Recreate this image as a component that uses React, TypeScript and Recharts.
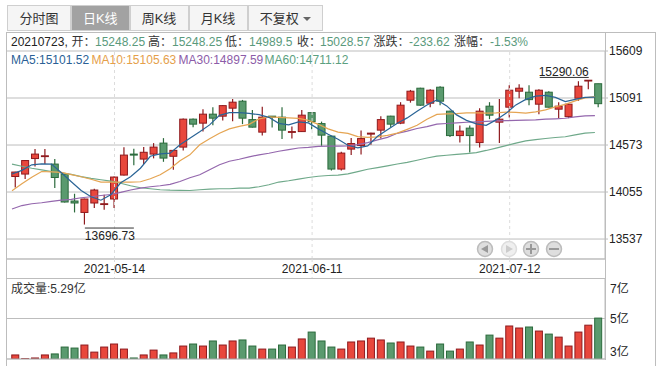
import { Bar, CartesianGrid, ComposedChart, Line, ReferenceDot, ReferenceLine, XAxis, YAxis } from "recharts"

const FONT = '"Liberation Sans", "Noto Sans CJK SC", sans-serif'
const RED = "#e8473c"
const RED_DARK = "#8e1a1e"
const GREEN = "#5a9a6e"
const GREEN_DARK = "#2b6a3c"
const GRID = "#bdbdbd"
const UP_TEXT = "#5a9a7c"

const dates = [
  "2021-04-27", "2021-04-28", "2021-04-29", "2021-04-30", "2021-05-06", "2021-05-07", "2021-05-10", "2021-05-11", "2021-05-12", "2021-05-13",
  "2021-05-14", "2021-05-17", "2021-05-18", "2021-05-19", "2021-05-20", "2021-05-21", "2021-05-24", "2021-05-25", "2021-05-26", "2021-05-27",
  "2021-05-28", "2021-05-31", "2021-06-01", "2021-06-02", "2021-06-03", "2021-06-04", "2021-06-07", "2021-06-08", "2021-06-09", "2021-06-10",
  "2021-06-11", "2021-06-15", "2021-06-16", "2021-06-17", "2021-06-18", "2021-06-21", "2021-06-22", "2021-06-23", "2021-06-24", "2021-06-25",
  "2021-06-28", "2021-06-29", "2021-06-30", "2021-07-01", "2021-07-02", "2021-07-05", "2021-07-06", "2021-07-07", "2021-07-08", "2021-07-09",
  "2021-07-12", "2021-07-13", "2021-07-14", "2021-07-15", "2021-07-16", "2021-07-19", "2021-07-20", "2021-07-21", "2021-07-22", "2021-07-23",
]
const opens = [
  14226, 14253, 14424, 14446, 14363, 14253, 13956, 13830, 13934, 13918,
  13978, 14242, 14473, 14418, 14473, 14594, 14449, 14550, 14858, 14814,
  14913, 14891, 14979, 15056, 14853, 14715, 14891, 14880, 14715, 14721,
  14930, 14809, 14671, 14308, 14528, 14567, 14693, 14737, 14891, 14814,
  15067, 15199, 15034, 15210, 14946, 14677, 14759, 14600, 15001, 14825,
  14990, 15166, 15155, 15023, 15155, 14968, 14886, 15089, 15279, 15248.25,
]
const closes = [
  14275, 14402, 14473, 14454, 14215, 13945, 13934, 13978, 14077, 13926,
  14220, 14462, 14462, 14493, 14550, 14429, 14514, 14858, 14803, 14913,
  14869, 15007, 15045, 14869, 14770, 14880, 14880, 14737, 14721, 14902,
  14831, 14682, 14308, 14484, 14589, 14644, 14704, 14853, 14803, 15012,
  15166, 15012, 15177, 15056, 14677, 14726, 14677, 14946, 14902, 14858,
  15177, 15199, 15073, 15177, 14990, 15001, 15023, 15221, 15287, 15028.57,
]
const highs = [
  14278, 14402, 14528, 14528, 14418, 14258, 14036, 13982, 14091, 14025,
  14225, 14548, 14531, 14550, 14594, 14649, 14518, 14866, 14866, 14968,
  14990, 15010, 15081, 15070, 14960, 14996, 14894, 14990, 14776, 14960,
  14934, 14831, 14675, 14498, 14649, 14732, 14708, 14891, 14895, 15045,
  15180, 15205, 15188, 15221, 14950, 14787, 14787, 14979, 15045, 15081,
  15232, 15243, 15232, 15188, 15166, 15045, 15034, 15276, 15290.06, 15248.25,
]
const lows = [
  14105, 14198, 14336, 14363, 14099, 13940, 13830, 13696.73, 13879, 13860,
  13879, 14238, 14350, 14363, 14426, 14388, 14300, 14512, 14770, 14721,
  14790, 14842, 14836, 14803, 14766, 14677, 14765, 14638, 14644, 14717,
  14748, 14564, 14292, 14292, 14462, 14468, 14575, 14644, 14770, 14803,
  15040, 15005, 14988, 15012, 14660, 14600, 14490, 14545, 14858, 14594,
  14875, 15089, 15012, 14913, 14986, 14869, 14869, 15059, 15188, 14989.5,
]
const ma5 = [
  14253, 14294, 14355, 14366, 14363, 14267, 14168, 14072, 14003, 13965,
  14025, 14157, 14223, 14317, 14449, 14476, 14484, 14575, 14648, 14718,
  14795, 14900, 14930, 14930, 14922, 14907, 14878, 14812, 14795, 14828,
  14817, 14751, 14691, 14636, 14570, 14542, 14564, 14669, 14740, 14812,
  14872, 14944, 15015, 15070, 15004, 14905, 14845, 14806, 14790, 14850,
  14922, 15015, 15076, 15112, 15120, 15098, 15051, 15076, 15098, 15101.52,
]
const ma10 = [
  14069, 14146, 14217, 14281, 14278, 14271, 14247, 14223, 14196, 14165,
  14165, 14165, 14165, 14168, 14201, 14245, 14311, 14399, 14465, 14575,
  14641, 14702, 14751, 14779, 14801, 14861, 14883, 14878, 14872, 14867,
  14845, 14801, 14751, 14715, 14702, 14666, 14658, 14663, 14680, 14704,
  14746, 14790, 14856, 14911, 14916, 14920, 14927, 14927, 14925, 14927,
  14935, 14933, 14925, 14938, 14960, 14993, 15021, 15059, 15092, 15105.63,
]
const ma30 = [
  13868, 13906, 13926, 13937, 13951, 13965, 13974, 13992, 14003, 14017,
  14028, 14051, 14077, 14098, 14113, 14124, 14140, 14171, 14212, 14245,
  14300, 14355, 14394, 14416, 14443, 14465, 14482, 14504, 14522, 14540,
  14548, 14559, 14561, 14561, 14564, 14578, 14599, 14630, 14658, 14702,
  14727, 14755, 14775, 14804, 14810, 14817, 14824, 14828, 14834, 14839,
  14841, 14845, 14848, 14850, 14858, 14862, 14868, 14883, 14894, 14897.59,
]
const ma60 = [
  14363, 14339, 14317, 14300, 14281, 14267, 14250, 14225, 14206, 14190,
  14176, 14152, 14124, 14102, 14091, 14080, 14075, 14073, 14072, 14080,
  14088, 14091, 14091, 14097, 14099, 14113, 14135, 14165, 14179, 14197,
  14215, 14229, 14237, 14242, 14256, 14280, 14306, 14324, 14344, 14364,
  14381, 14405, 14430, 14451, 14460, 14469, 14479, 14490, 14513, 14539,
  14566, 14593, 14619, 14633, 14645, 14656, 14664, 14685, 14705, 14711.12,
]
const volumes = [
  3.2, 3.02, 3.05, 3.2, 3.25, 3.59, 3.54, 3.69, 3.34, 3.59,
  3.74, 3.49, 3.05, 3.2, 3.44, 3.2, 3.3, 3.64, 3.74, 3.64,
  3.89, 3.69, 3.89, 3.94, 3.64, 3.49, 3.49, 3.69, 3.59, 3.99,
  4.33, 3.89, 3.59, 3.49, 3.84, 3.89, 4.03, 3.94, 3.79, 3.84,
  3.64, 3.59, 3.39, 3.74, 3.39, 3.49, 3.84, 3.69, 4.18, 4.03,
  4.63, 4.53, 4.58, 4.38, 4.23, 4.08, 3.64, 4.33, 4.67, 5.02,
]
const priceTicks = [15609, 15091, 14573, 14055, 13537]
const volumeTicks = [7, 5, 3]
const dateTicks = ["2021-05-14", "2021-06-11", "2021-07-12"]
const tabs = ["分时图", "日K线", "周K线", "月K线", "不复权"]
const tabEdges = [7, 71, 129.5, 188.5, 247.5, 323]

const infoRow = [
  { text: "20210723,", x: 11, color: "#222" },
  { text: "开：", x: 71.5, color: "#333" },
  { text: "15248.25", x: 95, color: UP_TEXT },
  { text: "高：", x: 148, color: "#333" },
  { text: "15248.25", x: 172, color: UP_TEXT },
  { text: "低：", x: 225, color: "#333" },
  { text: "14989.5", x: 249, color: UP_TEXT },
  { text: "收：", x: 297, color: "#333" },
  { text: "15028.57", x: 320, color: UP_TEXT },
  { text: "涨跌：", x: 373.5, color: "#333" },
  { text: "-233.62", x: 409, color: UP_TEXT },
  { text: "涨幅：", x: 454, color: "#333" },
  { text: "-1.53%", x: 490, color: UP_TEXT },
]
const maRow = [
  { text: "MA5:15101.52", x: 11, color: "#2a5f96" },
  { text: "MA10:15105.63", x: 91.5, color: "#e5a04a" },
  { text: "MA30:14897.59", x: 178.5, color: "#8c5ca8" },
  { text: "MA60:14711.12", x: 264.5, color: "#5b9f80" },
]

const rows = dates.map((date, i) => ({
  date,
  open: opens[i],
  close: closes[i],
  high: highs[i],
  low: lows[i],
  range: [lows[i], highs[i]],
  ma5: ma5[i],
  ma10: ma10[i],
  ma30: ma30[i],
  ma60: ma60[i],
  volume: volumes[i],
  up: closes[i] >= opens[i],
}))

function Candle(props: any) {
  const { x, y, width, height, payload } = props
  const perUnit = height / (payload.high - payload.low)
  const top = y + (payload.high - Math.max(payload.open, payload.close)) * perUnit
  const bottom = y + (payload.high - Math.min(payload.open, payload.close)) * perUnit
  const stroke = payload.up ? RED_DARK : GREEN_DARK
  const mid = x + width / 2
  return (
    <g>
      <line x1={mid} x2={mid} y1={y} y2={y + height} stroke={stroke} strokeWidth={1.2} />
      <rect x={x} y={top} width={width} height={Math.max(bottom - top, 0.8)} fill={payload.up ? RED : GREEN} stroke={stroke} strokeWidth={1} />
    </g>
  )
}

function VolumeBar(props: any) {
  const { x, y, width, height, payload } = props
  return <rect x={x} y={y} width={width} height={height} fill={payload.up ? RED : GREEN} stroke={payload.up ? RED_DARK : GREEN_DARK} strokeWidth={1} />
}

function DateTick(props: any) {
  const { x, y, payload } = props
  return (
    <g>
      <line x1={x} x2={x} y1={y} y2={y + 19} stroke="#dcdcdc" strokeDasharray="3 3" />
      <text x={x} y={y + 14} textAnchor="middle" fontSize={12} fontFamily={FONT} fill="#222">{payload.value}</text>
    </g>
  )
}

function VolumeTick(props: any) {
  const { x, y, payload } = props
  // the outer labels are pushed inside the panel
  const labelY = Math.min(Math.max(y + 4, 15), 78)
  return (
    <text x={x + 5} y={labelY} fontSize={12} fontFamily={FONT} fill="#222">
      {payload.value}亿
    </text>
  )
}

function HighLabel(props: any) {
  const { cx, cy } = props
  return (
    <g>
      <text x={cx} y={cy - 4} textAnchor="end" fontSize={12} fontFamily={FONT} fill="#222">15290.06</text>
      <line x1={cx - 49} x2={cx} y1={cy - 2.5} y2={cy - 2.5} stroke="#333" />
    </g>
  )
}

function LowLabel(props: any) {
  const { cx, cy } = props
  return (
    <g>
      <line x1={cx} x2={cx + 49} y1={cy + 3.5} y2={cy + 3.5} stroke="#333" />
      <text x={cx} y={cy + 15} fontSize={12} fontFamily={FONT} fill="#222">13696.73</text>
    </g>
  )
}

function ZoomButtons() {
  const centers = [485, 509, 531, 554]
  return (
    <svg width={664} height={366} style={{ position: "absolute", left: 0, top: 0, pointerEvents: "none" }}>
      {centers.map((cx, i) => (
        <circle key={cx} cx={cx} cy={249} r={7.5} fill={i === 1 ? "#efefef" : "#dedede"} stroke={i === 1 ? "#dddddd" : "#bcbcbc"} strokeWidth={1.5} />
      ))}
      <path d="M481 249 L488 245 L488 253 Z" fill="#999" />
      <path d="M513 249 L506 245 L506 253 Z" fill="#ccc" />
      <path d="M526 249 H536 M531 244 V254" stroke="#999" strokeWidth={2} />
      <path d="M549 249 H559" stroke="#999" strokeWidth={2} />
    </svg>
  )
}

function Frame() {
  const lineStyle = (left: number, top: number, width: number, height: number) => ({
    position: "absolute" as const, left, top, width, height, background: GRID,
  })
  return (
    <>
      <div style={lineStyle(6, 32, 650, 1)} />
      <div style={lineStyle(6, 32, 1, 334)} />
      <div style={lineStyle(655, 32, 1, 334)} />
      <div style={lineStyle(6, 278, 600, 1)} />
      <div style={lineStyle(605, 32, 1, 328)} />
    </>
  )
}

function Tabs() {
  return (
    <>
      {tabs.map((tab, i) => (
        <div
          key={tab}
          style={{
            position: "absolute", left: tabEdges[i], top: 5, width: tabEdges[i + 1] - tabEdges[i], height: 26, boxSizing: "border-box",
            border: "1px solid #cfcfcf", background: i === 1 ? "#a2a2a2" : "#f5f5f5", color: i === 1 ? "#fff" : "#333",
            fontFamily: FONT, fontSize: 13, lineHeight: "26px", textAlign: "center",
          }}
        >
          {tab}
          {i === 4 && <span style={{ display: "inline-block", marginLeft: 4, verticalAlign: 2, borderLeft: "4px solid transparent", borderRight: "4px solid transparent", borderTop: "4px solid #666" }} />}
        </div>
      ))}
    </>
  )
}

function TextRow({ items, top }: { items: { text: string; x: number; color: string }[]; top: number }) {
  return (
    <>
      {items.map((item) => (
        <span key={item.x} style={{ position: "absolute", left: item.x, top, color: item.color, fontFamily: FONT, fontSize: 12, lineHeight: "14px", whiteSpace: "nowrap" }}>
          {item.text}
        </span>
      ))}
    </>
  )
}

export default function App() {
  return (
    <div style={{ position: "absolute", left: 0, top: 0, width: 664, height: 366, background: "#fff", overflow: "hidden" }}>
      <Frame />
      <Tabs />
      <TextRow items={infoRow} top={35} />
      <TextRow items={maRow} top={53} />
      <span style={{ position: "absolute", left: 11, top: 282, color: "#333", fontFamily: FONT, fontSize: 12, lineHeight: "14px" }}>成交量:5.29亿</span>

      <div style={{ position: "absolute", left: 0, top: 0 }}>
        <ComposedChart width={664} height={279} data={rows} margin={{ top: 51, right: 58, bottom: 19, left: 7 }}>
          <XAxis
            xAxisId="bars"
            dataKey="date"
            height={1}
            ticks={dateTicks}
            interval={0}
            padding={{ left: 3.76, right: 1.44 }}
            axisLine={{ stroke: GRID }}
            tickLine={false}
            tickSize={0}
            tickMargin={0}
            tick={DateTick}
          />
          <XAxis xAxisId="lines" dataKey="date" hide padding={{ left: 0.06, right: 5.14 }} />
          <YAxis
            yAxisId="price"
            orientation="right"
            width={1}
            domain={[13317, 15609]}
            allowDataOverflow
            ticks={priceTicks}
            interval={0}
            axisLine={{ stroke: GRID }}
            tickLine={{ stroke: GRID }}
            tickSize={3}
            tickMargin={1}
            tick={{ fontSize: 12, fontFamily: FONT, fill: "#222" }}
          />
          <CartesianGrid xAxisId="bars" yAxisId="price" vertical={false} stroke={GRID} />
          {dateTicks.map((d) => (
            <ReferenceLine key={d} xAxisId="bars" yAxisId="price" x={d} stroke="#dcdcdc" strokeDasharray="3 3" />
          ))}
          <Bar xAxisId="bars" yAxisId="price" dataKey="range" barSize={7} shape={Candle} isAnimationActive={false} />
          <Line xAxisId="lines" yAxisId="price" dataKey="ma60" stroke="#6fa98a" strokeWidth={1.2} dot={false} isAnimationActive={false} />
          <Line xAxisId="lines" yAxisId="price" dataKey="ma30" stroke="#9467ad" strokeWidth={1.2} dot={false} isAnimationActive={false} />
          <Line xAxisId="lines" yAxisId="price" dataKey="ma10" stroke="#e5a553" strokeWidth={1.2} dot={false} isAnimationActive={false} />
          <Line xAxisId="lines" yAxisId="price" dataKey="ma5" stroke="#2a6496" strokeWidth={1.2} dot={false} isAnimationActive={false} />
          <ReferenceDot xAxisId="bars" yAxisId="price" x="2021-07-22" y={15290.06} shape={HighLabel} />
          <ReferenceDot xAxisId="bars" yAxisId="price" x="2021-05-11" y={13696.73} shape={LowLabel} />
        </ComposedChart>
      </div>

      <div style={{ position: "absolute", left: 0, top: 278 }}>
        <ComposedChart width={664} height={88} data={rows} margin={{ top: 0, right: 58, bottom: 6, left: 7 }}>
          <XAxis dataKey="date" height={1} padding={{ left: 3.76, right: 1.44 }} tick={false} tickLine={false} axisLine={{ stroke: GRID }} />
          <YAxis
            orientation="right"
            width={1}
            domain={[3, 7]}
            allowDataOverflow
            ticks={volumeTicks}
            interval={0}
            axisLine={{ stroke: GRID }}
            tickLine={false}
            tickSize={0}
            tickMargin={0}
            tick={VolumeTick}
          />
          <CartesianGrid vertical={false} stroke={GRID} />
          <Bar dataKey="volume" barSize={7} shape={VolumeBar} isAnimationActive={false} />
        </ComposedChart>
      </div>

      <ZoomButtons />
    </div>
  )
}
